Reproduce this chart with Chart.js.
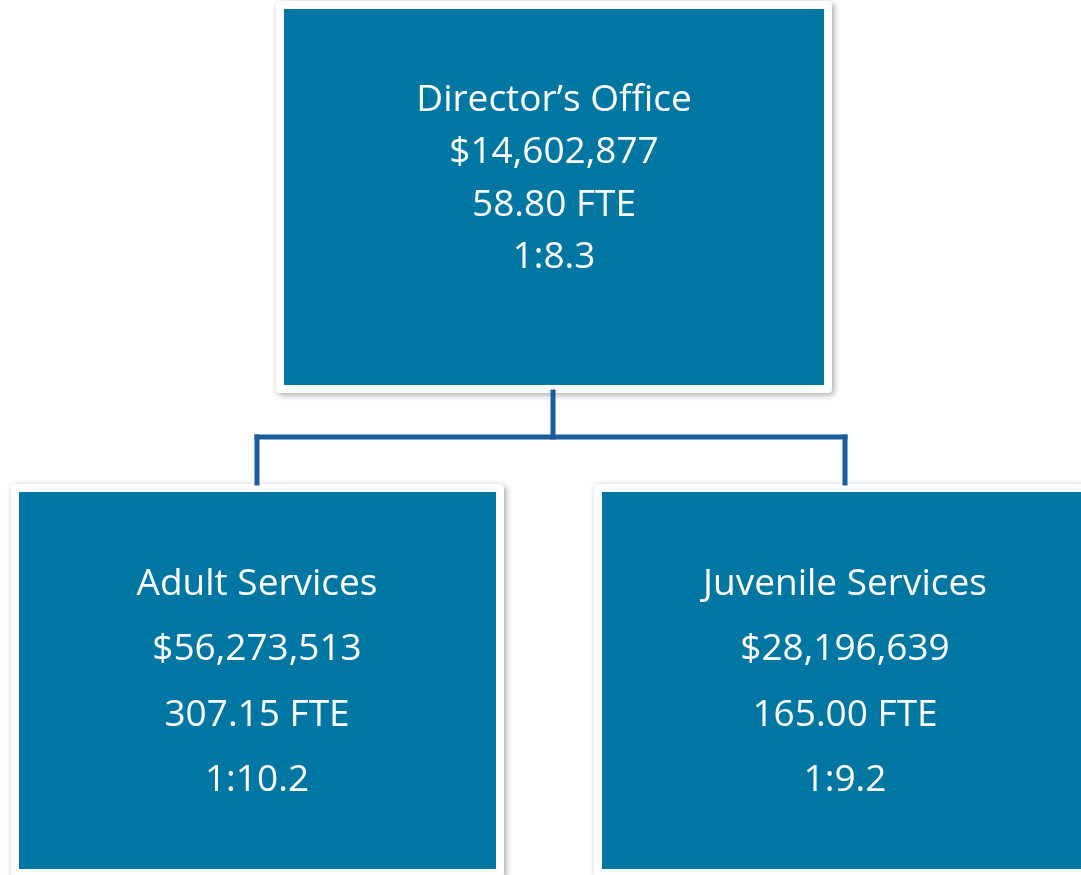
<!DOCTYPE html>
<html>
<head>
<meta charset="utf-8">
<script src="https://cdn.jsdelivr.net/npm/chart.js@4.4.1/dist/chart.umd.min.js"></script>
<style>
  html, body { margin: 0; padding: 0; background: #ffffff; }
  #wrap { width: 1081px; height: 875px; }
</style>
</head>
<body>
<div id="wrap"><canvas id="org" width="1081" height="875"></canvas></div>
<script>
// ── Data ──────────────────────────────────────────────────────────────────────
const UNITS   = ["Director\u2019s Office", "Adult Services", "Juvenile Services"];
const BUDGETS = ["$14,602,877", "$56,273,513", "$28,196,639"];
const FTES    = ["58.80 FTE", "307.15 FTE", "165.00 FTE"];
const RATIOS  = ["1:8.3", "1:10.2", "1:9.2"];

// ── Layout (chart units = pixels, y grows downward) ───────────────────────────
const BOXES = [
  { x0: 284, x1: 824,  y0: 9,   y1: 385, lineGap: 52.5, firstLine: 100 },
  { x0: 19,  x1: 496,  y0: 492, y1: 869, lineGap: 65.5, firstLine: 584 },
  { x0: 602, x1: 1090, y0: 492, y1: 869, lineGap: 65.5, firstLine: 584 },
];
const CENTERS = [554, 257, 845];
const FRAME = 8;

const BOX_BLUE  = "#0077a2";
const LINE_BLUE = "#1b5c9e";

// connector lines: trunk, bar, two drops
const connectors = [
  [{ x: 553, y: 392 }, { x: 553, y: 437 }],
  [{ x: 257, y: 437 }, { x: 845, y: 437 }],
  [{ x: 257, y: 437 }, { x: 257, y: 483 }],
  [{ x: 845, y: 437 }, { x: 845, y: 483 }],
];

// draws the boxes (white framed, shadowed) and their labels through the scales
const boxPlugin = {
  id: "boxes",
  beforeDatasetsDraw(chart) {
    const { ctx, scales: { x, y } } = chart;
    BOXES.forEach(b => {
      const L = x.getPixelForValue(b.x0 - FRAME), R = x.getPixelForValue(b.x1 + FRAME);
      const T = y.getPixelForValue(b.y0 - FRAME), B = y.getPixelForValue(b.y1 + FRAME);
      ctx.save();
      ctx.shadowColor = "rgba(0,0,0,0.35)";
      ctx.shadowBlur = 6;
      ctx.shadowOffsetX = 2;
      ctx.shadowOffsetY = 2;
      ctx.fillStyle = "#ffffff";
      ctx.beginPath();
      ctx.roundRect(L, T, R - L, B - T, 4);
      ctx.fill();
      ctx.restore();
    });
  },
  afterDatasetsDraw(chart) {
    const { ctx, scales: { x, y } } = chart;
    BOXES.forEach((b, i) => {
      const L = x.getPixelForValue(b.x0), R = x.getPixelForValue(b.x1);
      const T = y.getPixelForValue(b.y0), B = y.getPixelForValue(b.y1);
      ctx.save();
      ctx.fillStyle = BOX_BLUE;
      ctx.fillRect(L, T, R - L, B - T);
      ctx.fillStyle = "#ffffff";
      ctx.font = "37px 'Open Sans', Lato, sans-serif";
      ctx.textAlign = "center";
      ctx.textBaseline = "middle";
      const lines = [UNITS[i], BUDGETS[i], FTES[i], RATIOS[i]];
      lines.forEach((t, k) => {
        ctx.fillText(t, x.getPixelForValue(CENTERS[i]),
                     y.getPixelForValue(b.firstLine + k * b.lineGap));
      });
      ctx.restore();
    });
  },
};

new Chart(document.getElementById("org"), {
  type: "scatter",
  data: {
    datasets: connectors.map(seg => ({
      data: seg,
      showLine: true,
      borderColor: LINE_BLUE,
      borderWidth: 5,
      pointRadius: 0,
      borderCapStyle: "square",
    })),
  },
  options: {
    responsive: false,
    animation: false,
    layout: { padding: 0 },
    plugins: { legend: { display: false }, tooltip: { enabled: false } },
    scales: {
      x: { type: "linear", min: 0, max: 1081, display: false },
      y: { type: "linear", min: 0, max: 875, reverse: true, display: false },
    },
  },
  plugins: [boxPlugin],
});
</script>
</body>
</html>
